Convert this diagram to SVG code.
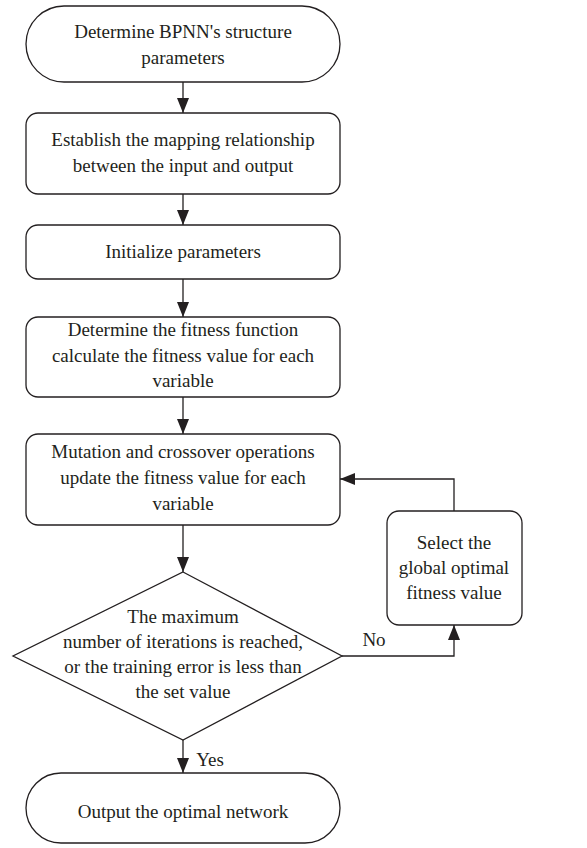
<svg xmlns="http://www.w3.org/2000/svg" width="587" height="848" viewBox="0 0 587 848">
<style>
.n{fill:#fff;stroke:#231f20;stroke-width:1.3}
.c{fill:none;stroke:#231f20;stroke-width:1.3}
text{font-family:"Liberation Serif","Times New Roman",serif;font-size:19px;fill:#231f20;text-anchor:middle}
</style>
<defs>
<marker id="a" viewBox="0 0 15 12" refX="15" refY="6" markerWidth="15" markerHeight="12" markerUnits="userSpaceOnUse" orient="auto">
<path d="M0,0 L15,6 L0,12 Z" fill="#231f20"/>
</marker>
</defs>
<g id="connectors">
<path class="c" d="M183,82 V113" marker-end="url(#a)"/>
<path class="c" d="M183,194 V225" marker-end="url(#a)"/>
<path class="c" d="M183,279 V317" marker-end="url(#a)"/>
<path class="c" d="M183,397 V434" marker-end="url(#a)"/>
<path class="c" d="M183,525 V572" marker-end="url(#a)"/>
<path class="c" d="M183,740 V773" marker-end="url(#a)"/>
<path class="c" d="M342,656 H454 V625" marker-end="url(#a)"/>
<path class="c" d="M454,511 V479 H340" marker-end="url(#a)"/>
<text x="374" y="646">No</text>
<text x="210" y="766">Yes</text>
</g>
<g id="n1"><rect class="n" x="26" y="6" width="314" height="76" rx="38"/>
<text x="183" y="38">Determine BPNN's structure</text><text x="183" y="64">parameters</text></g>
<g id="n2"><rect class="n" x="26" y="113" width="314" height="81" rx="12"/>
<text x="183" y="146">Establish the mapping relationship</text><text x="183" y="172">between the input and output</text></g>
<g id="n3"><rect class="n" x="26" y="225" width="314" height="54" rx="12"/>
<text x="183" y="258">Initialize parameters</text></g>
<g id="n4"><rect class="n" x="26" y="317" width="314" height="80" rx="12"/>
<text x="183" y="336">Determine the fitness function</text><text x="183" y="362">calculate the fitness value for each</text><text x="183" y="387">variable</text></g>
<g id="n5"><rect class="n" x="26" y="434" width="314" height="91" rx="12"/>
<text x="183" y="458">Mutation and crossover operations</text><text x="183" y="484">update the fitness value for each</text><text x="183" y="510">variable</text></g>
<g id="n6"><polygon class="n" points="183,572 342,656 183,740 13,656"/>
<text x="183" y="623">The maximum</text><text x="183" y="648">number of iterations is reached,</text><text x="183" y="673">or the training error is less than</text><text x="183" y="698">the set value</text></g>
<g id="n7"><rect class="n" x="387" y="511" width="135" height="114" rx="12"/>
<text x="454" y="549">Select the</text><text x="454" y="574">global optimal</text><text x="454" y="599">fitness value</text></g>
<g id="n8"><rect class="n" x="26" y="773" width="314" height="70" rx="35"/>
<text x="183" y="818">Output the optimal network</text></g>
</svg>
